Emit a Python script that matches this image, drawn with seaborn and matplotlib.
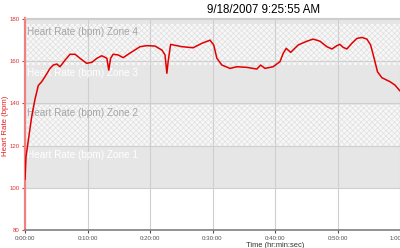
import matplotlib
matplotlib.use("Agg")
import matplotlib.pyplot as plt
import seaborn as sns
import pandas as pd

# ---- data ----
minutes = [0, 0.16, 0.69, 1.07, 1.6, 2.13, 2.67, 3.2, 4.0, 4.53, 5.07, 5.6, 6.4, 7.2,
           8.0, 8.8, 9.87, 10.7, 11.5, 12.3, 13.1, 13.4, 13.7, 14.1, 14.9, 15.7, 16.5,
           17.3, 18.4, 19.5, 20.8, 21.9, 22.4, 22.7, 22.9, 23.3, 25.1, 26.9, 28.3, 29.6,
           30.2, 30.7, 31.5, 32.8, 33.9, 35.5, 37.1, 37.7, 38.4, 39.7, 40.8, 41.3, 41.8,
           42.5, 43.7, 45.1, 46.1, 47.2, 48.3, 49.1, 49.9, 50.4, 50.9, 51.5, 52.3, 53.1,
           53.9, 54.7, 55.3, 55.8, 56.4, 57.1, 58.4, 59.2, 60]
heart_rate = [104, 114.7, 125.8, 133.7, 142, 148.5, 150.3, 152.7, 156.6, 158.2, 158.7,
              157.4, 160.5, 163.3, 163.3, 161.4, 159.0, 159.5, 161.4, 162.6, 161.4, 155.8,
              161.4, 163.3, 163.0, 161.7, 163.3, 164.8, 166.9, 167.4, 167.2, 165.3, 163.0,
              154.3, 159.8, 168.0, 166.9, 166.4, 168.5, 170.0, 167.7, 161.4, 158.2, 156.6,
              157.4, 157.1, 156.3, 158.2, 156.6, 157.4, 159.8, 163.7, 166.1, 164.2, 167.7,
              169.5, 170.5, 169.5, 166.9, 165.8, 167.4, 168.0, 166.6, 165.8, 168.5, 170.8,
              171.3, 170.5, 167.7, 162.1, 155.0, 152.2, 150.3, 148.7, 145.9]

zone_names = ["Heart Rate (bpm) Zone 1", "Heart Rate (bpm) Zone 2",
              "Heart Rate (bpm) Zone 3", "Heart Rate (bpm) Zone 4", ""]
zone_low = [99.5, 119.5, 139.2, 158.3, 177.5]
zone_high = [119.5, 139.2, 158.3, 177.5, 197.0]

x_ticks = [0, 10, 20, 30, 40, 50, 60]
x_tick_labels = ["0:00:00", "0:10:00", "0:20:00", "0:30:00", "0:40:00", "0:50:00", "1:00:00"]
y_ticks = [80, 100, 120, 140, 160, 180]
title_text = "9/18/2007 9:25:55 AM"

# ---- style ----
sns.set_style("white")
plt.rcParams["font.family"] = ["Liberation Sans", "DejaVu Sans"]
plt.rcParams["hatch.linewidth"] = 0.5

fig = plt.figure(figsize=(4, 2.48), dpi=100)
ax = fig.add_axes([25 / 400, 18 / 248, 387.5 / 400, 212 / 248])

solid_c = "#e6e6e6"
for i, (lo, hi, name) in enumerate(zip(zone_low, zone_high, zone_names)):
    if i % 2 == 0:
        ax.axhspan(lo, hi, facecolor=solid_c, edgecolor="none", linewidth=0, zorder=0)
        tc = "white"
    else:
        ax.axhspan(lo, hi, facecolor="#f7f7f7", edgecolor="#e0e0e0", hatch="xxxxxx",
                   linewidth=0, zorder=0)
        tc = "#a6a6a6"
    if name:
        ax.text(0.3, hi - 3.8, name, color=tc, fontsize=7.2, ha="left", va="center",
                zorder=1)

df = pd.DataFrame({"minutes": minutes, "bpm": heart_rate})
sns.lineplot(data=df, x="minutes", y="bpm", color="#e00000", linewidth=1.1, ax=ax,
             zorder=3, sort=False)

ax.set_xlim(0, 62)
ax.set_ylim(80, 180.5)
ax.set_xticks(x_ticks)
ax.set_xticklabels(x_tick_labels)
ax.set_yticks(y_ticks)
ax.set_yticklabels([str(v) for v in y_ticks])
ax.set_axisbelow(True)
ax.grid(True, color="#cfcfcf", linewidth=0.8, zorder=0.5)

ax.tick_params(axis="y", colors="#e03030", labelsize=4.4, length=2.5, width=0.8, pad=1.5,
               left=True)
ax.tick_params(axis="x", colors="#505050", labelsize=4.4, length=2, width=0.8, pad=2,
               bottom=True)
for lab in ax.get_yticklabels():
    lab.set_color("#e03030")

ax.spines["left"].set_color("#f08080")
ax.spines["left"].set_linewidth(1.6)
ax.spines["bottom"].set_color("#808080")
ax.spines["bottom"].set_linewidth(1.2)
ax.spines["top"].set_color("#cccccc")
ax.spines["top"].set_linewidth(0.8)
ax.spines["right"].set_visible(False)

ax.set_xlabel("")
ax.set_ylabel("")
fig.text(6 / 400, 1 - 126 / 248, "Heart Rate (bpm)", rotation=90, color="#e02020",
         fontsize=5.6, ha="center", va="center")
fig.text(275 / 400, 1 - 245.5 / 248, "Time (hr:min:sec)", color="#303030",
         fontsize=5.4, ha="center", va="center")
fig.text(263.5 / 400, 1 - 10 / 248, title_text, color="black", fontsize=8.3,
         ha="center", va="center")

fig.savefig("out.png", dpi=100)
